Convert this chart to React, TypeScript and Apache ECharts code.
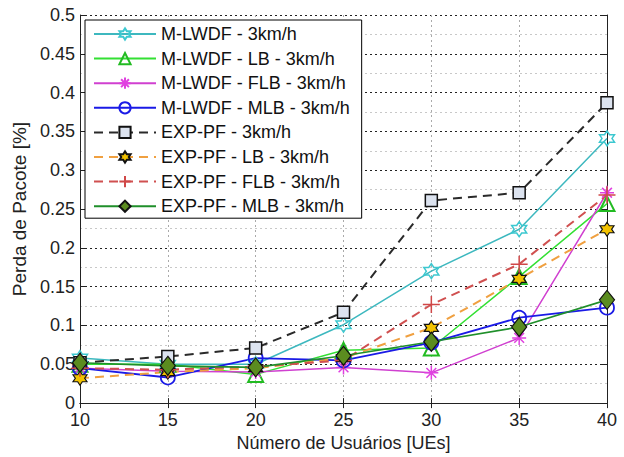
import React, { useEffect, useRef } from "react";
import * as echarts from "echarts";

const users = [10, 15, 20, 25, 30, 35, 40];
const mlwdf = [0.058, 0.05, 0.05, 0.101, 0.17, 0.224, 0.341];
const mlwdfLB = [0.05, 0.05, 0.037, 0.068, 0.071, 0.163, 0.257];
const mlwdfFLB = [0.045, 0.041, 0.04, 0.046, 0.039, 0.084, 0.271];
const mlwdfMLB = [0.045, 0.033, 0.058, 0.055, 0.078, 0.11, 0.123];
const exppf = [0.052, 0.06, 0.071, 0.117, 0.261, 0.271, 0.387];
const exppfLB = [0.032, 0.04, 0.045, 0.058, 0.097, 0.16, 0.224];
const exppfFLB = [0.045, 0.043, 0.047, 0.055, 0.127, 0.179, 0.268];
const exppfMLB = [0.052, 0.048, 0.046, 0.061, 0.079, 0.098, 0.133];

const names = [
  "M-LWDF - 3km/h",
  "M-LWDF - LB - 3km/h",
  "M-LWDF - FLB - 3km/h",
  "M-LWDF - MLB - 3km/h",
  "EXP-PF - 3km/h",
  "EXP-PF - LB - 3km/h",
  "EXP-PF - FLB - 3km/h",
  "EXP-PF - MLB - 3km/h",
];

const HEX = "path://M0,-10L2.887,-5L8.66,-5L5.774,0L8.66,5L2.887,5L0,10L-2.887,5L-8.66,5L-5.774,0L-8.66,-5L-2.887,-5Z";
const AST = "path://M0,-10L0,10M-10,0L10,0M-7,-7L7,7M-7,7L7,-7";
const PLUS = "path://M0,-10L0,10M-10,0L10,0";
const NONE = "rgba(255,255,255,0)";

const FONT = "Liberation Sans, Arial, sans-serif";

function mk(
  name: string,
  vals: number[],
  lineColor: string,
  lineType: any,
  lineWidth: number,
  symbol: string,
  symbolSize: any,
  fill: string,
  stroke: string,
  strokeWidth: number
) {
  return {
    name,
    type: "line",
    data: users.map((u, i) => [u, vals[i]]),
    symbol,
    symbolSize,
    showAllSymbol: true,
    lineStyle: { color: lineColor, type: lineType, width: lineWidth },
    itemStyle: { color: fill, borderColor: stroke, borderWidth: strokeWidth },
    emphasis: { disabled: true },
  };
}

export default function App() {
  const ref = useRef<HTMLDivElement>(null);
  useEffect(() => {
    if (!ref.current) return;
    const chart = echarts.init(ref.current, null, { renderer: "svg" });
    const series = [
      mk(names[0], mlwdf, "#3db8bf", "solid", 1.5, HEX, 15, NONE, "#3cc8d0", 1.5),
      mk(names[1], mlwdfLB, "#33e033", "solid", 1.5, "triangle", 15, NONE, "#22bb22", 2),
      mk(names[2], mlwdfFLB, "#d040d0", "solid", 1.5, AST, 14, NONE, "#e040e0", 1.5),
      mk(names[3], mlwdfMLB, "#1a1ae6", "solid", 1.8, "circle", 14, NONE, "#1a1ae6", 1.8),
      mk(names[4], exppf, "#2a2a2a", [9, 6], 2, "rect", 12, "#dce3ef", "#111", 1.5),
      mk(names[5], exppfLB, "#f0a040", [9, 6], 2, HEX, 14, "#f2c200", "#111", 1.2),
      mk(names[6], exppfFLB, "#d05050", [9, 6], 2, PLUS, 17, NONE, "#d04848", 1.5),
      mk(names[7], exppfMLB, "#1f8f2a", "solid", 1.6, "diamond", [15, 19], "#5b8c1f", "#111", 1.2),
    ];
    chart.setOption({
      animation: false,
      backgroundColor: "#ffffff",
      textStyle: { fontFamily: FONT },
      grid: { left: 80, right: 17, top: 15, bottom: 49, show: false },
      legend: {
        data: names,
        orient: "vertical",
        left: 85,
        top: 20,
        itemWidth: 62,
        itemHeight: 14,
        itemGap: 6.6,
        padding: [5, 12, 3, 8],
        backgroundColor: "#ffffff",
        borderColor: "#000",
        borderWidth: 1,
        textStyle: { fontSize: 18, color: "#111", fontFamily: FONT },
      },
      xAxis: [
        {
          type: "value",
          min: 10,
          max: 40,
          interval: 5,
          name: "Número de Usuários [UEs]",
          nameLocation: "middle",
          nameGap: 25,
          nameTextStyle: { fontSize: 18, color: "#222", fontFamily: FONT },
          axisLine: { show: true, lineStyle: { color: "#222", width: 1 } },
          axisTick: { show: true, inside: true, length: 5, lineStyle: { color: "#222" } },
          axisLabel: { fontSize: 18, color: "#222", margin: 8, fontFamily: FONT },
          splitLine: { show: true, lineStyle: { color: "#aaa", type: [2, 3], width: 1 } },
        },
        {
          type: "value",
          position: "top",
          min: 10,
          max: 40,
          interval: 5,
          axisLine: { show: true, lineStyle: { color: "#222", width: 1 } },
          axisTick: { show: true, inside: true, length: 5, lineStyle: { color: "#222" } },
          axisLabel: { show: false },
          splitLine: { show: false },
        },
      ],
      yAxis: [
        {
          type: "value",
          min: 0,
          max: 0.5,
          interval: 0.05,
          name: "Perda de Pacote [%]",
          nameLocation: "middle",
          nameGap: 48,
          nameTextStyle: { fontSize: 19, color: "#222", fontFamily: FONT },
          axisLine: { show: true, lineStyle: { color: "#222", width: 1 } },
          axisTick: { show: true, inside: true, length: 5, lineStyle: { color: "#222" } },
          minorTick: { show: true, splitNumber: 2, length: 0 },
          minorSplitLine: { show: true, lineStyle: { color: "#c8c8c8", type: [2, 3], width: 1 } },
          axisLabel: {
            fontSize: 18,
            color: "#222",
            margin: 5,
            fontFamily: FONT,
            formatter: (v: number) => String(parseFloat(v.toFixed(2))),
          },
          splitLine: { show: true, lineStyle: { color: "#222", type: [2, 3], width: 1 } },
        },
        {
          type: "value",
          position: "right",
          min: 0,
          max: 0.5,
          interval: 0.05,
          axisLine: { show: true, lineStyle: { color: "#222", width: 1 } },
          axisTick: { show: true, inside: true, length: 5, lineStyle: { color: "#222" } },
          axisLabel: { show: false },
          splitLine: { show: false },
        },
      ],
      series,
    });
    return () => chart.dispose();
  }, []);
  return <div ref={ref} style={{ width: 624, height: 457, position: "absolute", left: 0, top: 0 }} />;
}
